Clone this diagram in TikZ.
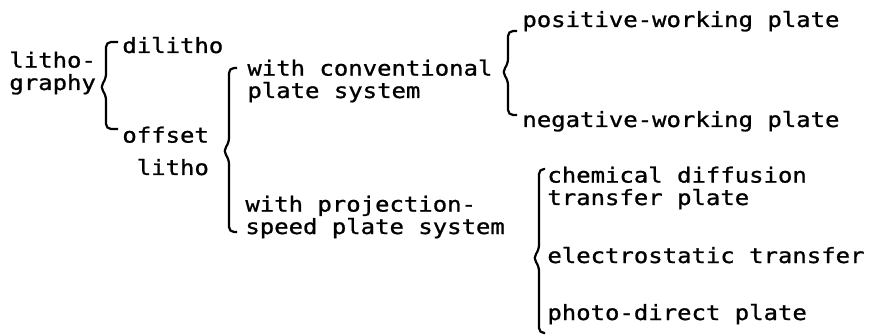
\documentclass[tikz,border=0pt]{standalone}
\usepackage{fontspec}
\newfontfamily\typewr[FakeStretch=1.14, FakeBold=1]{DejaVu Sans Mono}
\usetikzlibrary{calc}

\tikzset{
  entry/.style={anchor=base west, inner sep=0pt, align=left,
    font=\typewr\fontsize{10.5}{11.2}\selectfont},
  curly/.style={line width=1.1pt, rounded corners=2.5pt},
}

% left brace: top end, tip, bottom end
\newcommand{\curlybrace}[3]{%
  \draw[curly] (#1) -| ($(#2)+(6,-8)$) -- (#2) -- ($(#2)+(6,8)$) |- (#3);
}

\begin{document}
\begin{tikzpicture}[x=0.5pt, y=-0.5pt]
\useasboundingbox (0,0) rectangle (881,336);

% multi-line entries sit on the baseline of their last line
\node[entry] (litho) at (9,90) {litho-\\graphy};
\node[entry] (dilitho) at (122,53) {dilitho};
\node[entry] (offset) at (122,175) {offset\\[5pt]\ litho};

\node[entry] (conv) at (247,98) {with conventional\\plate system};
\node[entry] (proj) at (245,234) {with projection-\\speed plate system};

\node[entry] (pos) at (522,27) {positive-working plate};
\node[entry] (neg) at (522,127) {negative-working plate};

\node[entry] (chem) at (547,205) {chemical diffusion\\transfer plate};
\node[entry] (elec) at (547,263) {electrostatic transfer};
\node[entry] (photo) at (547,320) {photo-direct plate};

% brace points
\coordinate (b1top) at (118,42);
\coordinate (b1tip) at (100,87);
\coordinate (b1bot) at (118,129);

\coordinate (b2top) at (237,68);
\coordinate (b2tip) at (223,151);
\coordinate (b2bot) at (237,232);

\coordinate (b3top) at (517,31);
\coordinate (b3tip) at (502,72);
\coordinate (b3bot) at (517,115);

\coordinate (b4top) at (545,169);
\coordinate (b4tip) at (533,258);
\coordinate (b4bot) at (545,333);

\curlybrace{b1top}{b1tip}{b1bot}
\curlybrace{b2top}{b2tip}{b2bot}
\curlybrace{b3top}{b3tip}{b3bot}
\curlybrace{b4top}{b4tip}{b4bot}

\end{tikzpicture}
\end{document}
